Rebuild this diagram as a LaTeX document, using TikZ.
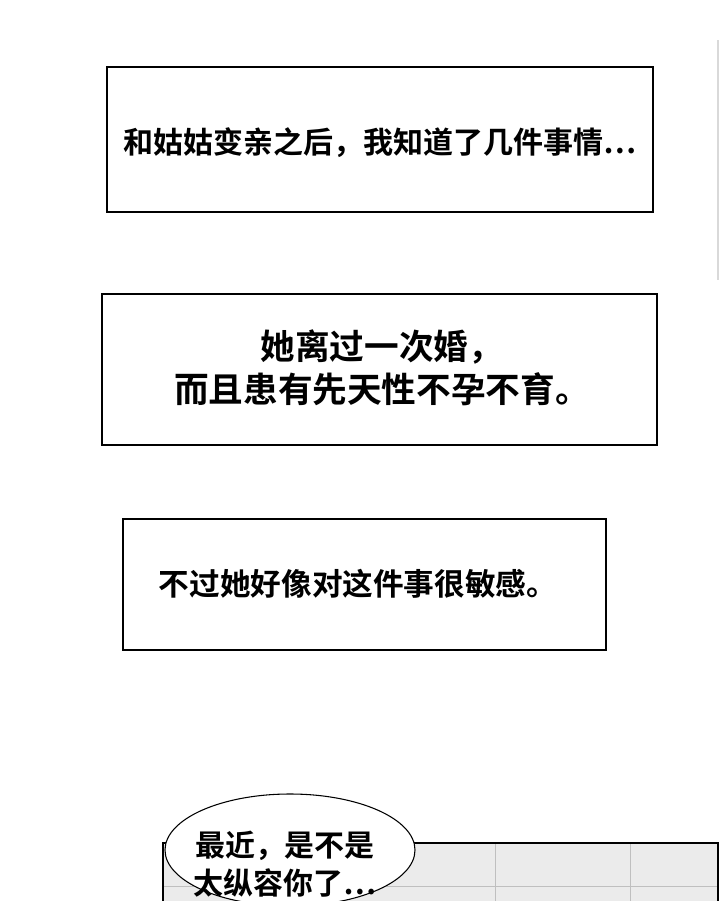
\documentclass[tikz,border=0pt]{standalone}
\usepackage{fontspec}
\newfontfamily\cjk{Noto Sans CJK SC}[BoldFont={Noto Sans CJK SC Bold}]
\begin{document}
\begin{tikzpicture}[x=0.75pt,y=-0.75pt,
  boxst/.style={draw=black,line width=0.8pt,fill=white},
  txt/.style={align=center,inner sep=0pt}]
\useasboundingbox (0,0) rectangle (720,901);
\fill[white] (0,0) rectangle (720,901);
\draw[gray!30,line width=1pt] (718,40) -- (718,280);
\draw[boxst] (107,67) rectangle (653,212);
\node[txt,font=\cjk\bfseries\fontsize{22.5pt}{27pt}\selectfont] (t1) at (380,143) {和姑姑变亲之后，我知道了几件事情…};
\draw[boxst] (102,294) rectangle (657,445);
\node[txt,font=\cjk\bfseries\fontsize{26pt}{32pt}\selectfont] (t2) at (382,368) {她离过一次婚，\\而且患有先天性不孕不育。};
\draw[boxst] (123,519) rectangle (606,650);
\node[txt,font=\cjk\bfseries\fontsize{23pt}{27pt}\selectfont] (t3) at (358,584) {不过她好像对这件事很敏感。};
% panel
\fill[black!8] (163,843) rectangle (718,901);
\draw[black!25] (495,843) -- (495,901) (630,843) -- (630,901) (163,886) -- (718,886);
\draw[black,line width=1.5pt] (163,901) -- (163,843) -- (718,843) -- (718,901);
\draw[black,line width=0.8pt,fill=white] (290,850) ellipse [x radius=125,y radius=56];
\node[txt,font=\cjk\bfseries\fontsize{22.5pt}{28pt}\selectfont] (b) at (285,864) {最近，是不是\\太纵容你了…};
\end{tikzpicture}
\end{document}
